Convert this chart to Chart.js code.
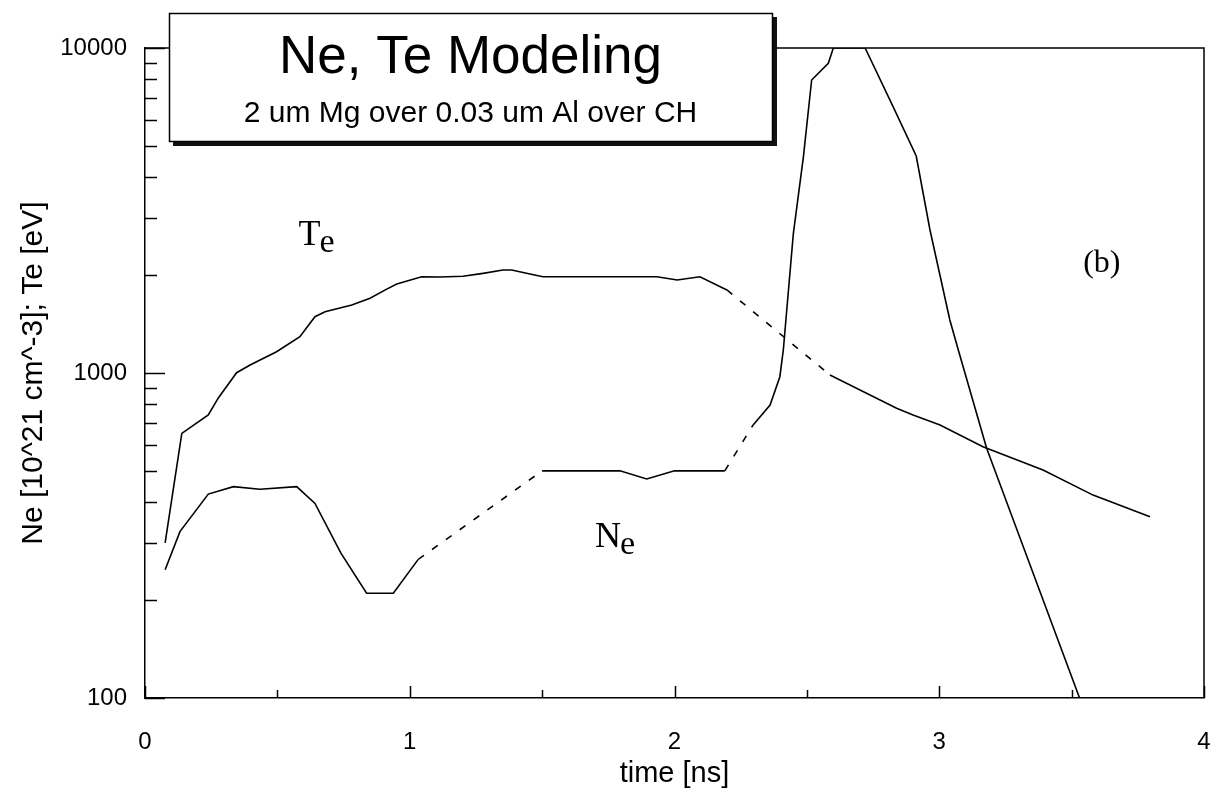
<!DOCTYPE html>
<html><head><meta charset="utf-8">
<script src="https://cdn.jsdelivr.net/npm/chart.js@4.4.1/dist/chart.umd.min.js"></script>
<style>html,body{margin:0;padding:0;background:#fff;}#wrap{width:1224px;height:793px;}</style>
</head><body><div id="wrap"><canvas id="c" width="1224" height="793"></canvas></div>
<script>
// ---- data ----
const teTime  = [0.076, 0.139, 0.239, 0.277, 0.346, 0.397, 0.497, 0.585, 0.642, 0.680, 0.781, 0.850, 0.913, 0.951, 1.045, 1.114, 1.201, 1.277, 1.352, 1.385, 1.454, 1.503, 1.934, 2.010, 2.096, 2.198, 2.587, 2.839, 2.901, 3.003, 3.165, 3.392, 3.581, 3.796];
const teValue = [300, 652, 743, 838, 1002, 1058, 1163, 1293, 1490, 1544, 1619, 1698, 1812, 1879, 1978, 1974, 1984, 2026, 2074, 2074, 2016, 1978, 1978, 1932, 1978, 1801, 986, 779, 743, 692, 593, 503, 421, 361];
const teDashedSegments = [25];

const neTime  = [0.076, 0.132, 0.239, 0.334, 0.434, 0.573, 0.642, 0.740, 0.837, 0.938, 1.032, 1.500, 1.794, 1.895, 2.000, 2.190, 2.297, 2.361, 2.398, 2.411, 2.449, 2.487, 2.518, 2.581, 2.600, 2.720, 2.826, 2.913, 2.965, 3.040, 3.072, 3.179, 3.530];
const neValue = [248, 325, 424, 447, 439, 447, 397, 279, 210, 210, 267, 500, 500, 472, 500, 500, 692, 797, 974, 1177, 2691, 4630, 7970, 8975, 10000, 10000, 6592, 4652, 2754, 1456, 1177, 587, 100];
const neDashedSegments = [10, 15];

const xTickLabels = [0, 1, 2, 3, 4];
const xMinorTicks = [0.5, 1.5, 2.5, 3.5];
const yTickLabels = [100, 1000, 10000];
const yMinorTicks = [200, 300, 400, 500, 600, 700, 800, 900, 2000, 3000, 4000, 5000, 6000, 7000, 8000, 9000];

const chartTitle = 'Ne, Te Modeling';
const chartSubtitle = '2 um Mg over 0.03 um Al over CH';
const xAxisTitle = 'time [ns]';
const yAxisTitle = 'Ne [10^21 cm^-3]; Te [eV]';
const curveLabelText = [['T', 'e'], ['N', 'e']];
const panelLabelText = '(b)';

// ---- layout / style (kept apart from data) ----
const labelAnchors = [{x: 0.58, y: 2480}, {x: 1.70, y: 291}];
const panelAnchor = {x: 3.614, y: 2046};
const SANS = "'Liberation Sans', Arial, sans-serif";
const SERIF = "'Liberation Serif', 'Times New Roman', serif";

const pts = (ts, vs) => ts.map((t, i) => ({x: t, y: vs[i]}));
const dashFor = (list, pat) => c => list.includes(c.p0DataIndex) ? pat : undefined;

const decorPlugin = {
  id: 'decor',
  afterDatasetsDraw(chart) {
    const {ctx, chartArea: a, scales: {x, y}} = chart;
    ctx.save();
    ctx.strokeStyle = '#000';
    ctx.lineWidth = 1.5;
    // top & right frame
    ctx.beginPath();
    ctx.moveTo(a.left, a.top); ctx.lineTo(a.right, a.top); ctx.lineTo(a.right, a.bottom);
    ctx.stroke();
    // inward y ticks
    ctx.beginPath();
    yTickLabels.forEach(v => { const py = Math.round(y.getPixelForValue(v)) + 0.5; ctx.moveTo(a.left, py); ctx.lineTo(a.left + 20, py); });
    yMinorTicks.forEach(v => { const py = Math.round(y.getPixelForValue(v)) + 0.5; ctx.moveTo(a.left, py); ctx.lineTo(a.left + 12, py); });
    // inward x ticks
    xTickLabels.forEach(v => { const px = Math.round(x.getPixelForValue(v)) + 0.5; ctx.moveTo(px, a.bottom); ctx.lineTo(px, a.bottom - 12); });
    xMinorTicks.forEach(v => { const px = Math.round(x.getPixelForValue(v)) + 0.5; ctx.moveTo(px, a.bottom); ctx.lineTo(px, a.bottom - 8); });
    ctx.stroke();

    // curve labels with subscripts
    ctx.fillStyle = '#000';
    ctx.textBaseline = 'alphabetic';
    ctx.textAlign = 'left';
    curveLabelText.forEach((lbl, i) => {
      const px = x.getPixelForValue(labelAnchors[i].x);
      const py = y.getPixelForValue(labelAnchors[i].y);
      ctx.font = '36px ' + SERIF;
      ctx.fillText(lbl[0], px, py);
      const w = ctx.measureText(lbl[0]).width;
      ctx.font = '34px ' + SERIF;
      ctx.fillText(lbl[1], px + w - 1, py + 7);
    });
    ctx.font = '32px ' + SERIF;
    ctx.textAlign = 'center';
    ctx.fillText(panelLabelText, x.getPixelForValue(panelAnchor.x), y.getPixelForValue(panelAnchor.y));

    // title box with shadow
    const bx = 169, by = 13, bw = 603, bh = 128;
    ctx.fillStyle = '#111';
    ctx.fillRect(bx + 4, by + 4, bw + 1, bh + 1);
    ctx.fillStyle = '#fff';
    ctx.fillRect(bx, by, bw, bh);
    ctx.lineWidth = 1.5;
    ctx.strokeRect(bx + 0.5, by + 0.5, bw, bh);
    ctx.fillStyle = '#000';
    ctx.textAlign = 'center';
    ctx.font = '53px ' + SANS;
    ctx.fillText(chartTitle, bx + bw / 2, 73);
    ctx.font = '30px ' + SANS;
    ctx.fillText(chartSubtitle, bx + bw / 2, 122);
    ctx.restore();
  }
};

new Chart(document.getElementById('c'), {
  type: 'line',
  data: {
    datasets: [
      {label: 'Te', data: pts(teTime, teValue), borderColor: '#000', borderWidth: 1.6, pointRadius: 0, tension: 0,
       segment: {borderDash: dashFor(teDashedSegments, [7, 10])}},
      {label: 'Ne', data: pts(neTime, neValue), borderColor: '#000', borderWidth: 1.6, pointRadius: 0, tension: 0,
       segment: {borderDash: dashFor(neDashedSegments, [7, 10])}}
    ]
  },
  options: {
    responsive: false, animation: false, devicePixelRatio: 1,
    layout: {padding: {top: 48, right: 20, left: 0, bottom: 0}},
    plugins: {legend: {display: false}, tooltip: {enabled: false}, title: {display: false}},
    scales: {
      x: {
        type: 'linear', min: 0, max: 4,
        afterFit(s) { s.height = 95; s.paddingLeft = 0; s.paddingRight = 0; },
        grid: {display: false, drawTicks: false},
        border: {display: true, color: '#000', width: 1.5},
        ticks: {stepSize: 1, padding: 30, color: '#000', font: {family: SANS, size: 24},
                callback: v => xTickLabels.includes(v) ? String(v) : ''},
        title: {display: true, text: xAxisTitle, color: '#000', font: {family: SANS, size: 29}, padding: {top: 0, bottom: 2}}
      },
      y: {
        type: 'logarithmic', min: 100, max: 10000,
        afterFit(s) { s.width = 145; },
        afterBuildTicks(s) { s.ticks = yTickLabels.map(v => ({value: v})); },
        grid: {display: false, drawTicks: false},
        border: {display: true, color: '#000', width: 1.5},
        ticks: {padding: 18, color: '#000', font: {family: SANS, size: 24}, callback: v => String(v)},
        title: {display: true, text: yAxisTitle, color: '#000', font: {family: SANS, size: 30}, padding: {top: 16, bottom: 0}}
      }
    }
  },
  plugins: [decorPlugin]
});
</script>
</body></html>
